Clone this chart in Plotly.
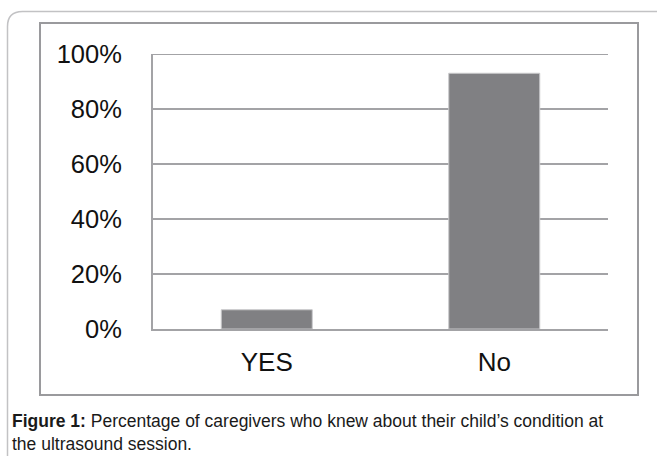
import plotly.graph_objects as go

# Survey answers and share of caregivers
categories = ["YES", "No"]
shares = [0.07, 0.93]
tick_values = [0, 0.2, 0.4, 0.6, 0.8, 1.0]
tick_labels = ["0%", "20%", "40%", "60%", "80%", "100%"]
caption = ("<b>Figure 1:</b> Percentage of caregivers who knew about their child’s condition at"
           "<br>the ultrasound session.")

W, H = 657, 456
M_L, M_R, M_T, M_B = 153, 49, 54, 127
PW, PH = W - M_L - M_R, H - M_T - M_B


def px_x(x):
    return (x - M_L) / PW


def px_y(y):
    return (H - M_B - y) / PH


FONT = "Liberation Sans, Arial, sans-serif"
GRID = "#a3a3a6"

fig = go.Figure(
    go.Bar(
        x=categories,
        y=shares,
        marker=dict(color="#808083", line=dict(color="#c9c9cb", width=1)),
        width=0.4,
        hoverinfo="x+y",
    )
)

# Rounded outer frame (top-left corner)
r = 15
x0, y0 = 7.5, 11.5
frame_path = (
    f"M {px_x(x0)},{px_y(H + 5)} L {px_x(x0)},{px_y(y0 + r)} "
    f"Q {px_x(x0)},{px_y(y0)} {px_x(x0 + r)},{px_y(y0)} L {px_x(W + 5)},{px_y(y0)}"
)

fig.update_layout(
    width=W,
    height=H,
    margin=dict(l=M_L, r=M_R, t=M_T, b=M_B),
    paper_bgcolor="white",
    plot_bgcolor="white",
    showlegend=False,
    bargap=0.6,
    font=dict(family=FONT, color="#111111"),
    xaxis=dict(
        showgrid=False,
        showline=True,
        linecolor=GRID,
        linewidth=2,
        ticks="outside",
        ticklen=9,
        tickcolor="rgba(0,0,0,0)",
        tickfont=dict(size=26, family=FONT, color="#111111"),
        fixedrange=True,
    ),
    yaxis=dict(
        range=[0, 1],
        tickvals=tick_values,
        ticktext=tick_labels,
        showgrid=True,
        gridcolor=GRID,
        gridwidth=2,
        showline=True,
        linecolor=GRID,
        linewidth=2,
        zeroline=False,
        ticks="outside",
        ticklen=24,
        tickcolor="rgba(0,0,0,0)",
        tickfont=dict(size=25.5, family=FONT, color="#111111"),
        fixedrange=True,
    ),
    shapes=[
        # top gridline at 100%
        dict(
            type="line", xref="paper", yref="y",
            x0=0, x1=1, y0=tick_values[-1], y1=tick_values[-1],
            line=dict(color=GRID, width=2), layer="below",
        ),
        # inner chart box
        dict(
            type="rect", xref="paper", yref="paper",
            x0=px_x(40), x1=px_x(638), y0=px_y(395), y1=px_y(23),
            line=dict(color="#9a9a9d", width=2), layer="below",
        ),
        dict(
            type="path", xref="paper", yref="paper", path=frame_path,
            line=dict(color="#c2c2c4", width=1.5), layer="below",
        ),
    ],
    annotations=[
        dict(
            text=caption, xref="paper", yref="paper",
            x=px_x(10), y=px_y(409), xanchor="left", yanchor="top",
            align="left", showarrow=False,
            font=dict(size=17.5, family=FONT, color="#1a1a1a"),
        )
    ],
)

fig.write_html("out.html")
